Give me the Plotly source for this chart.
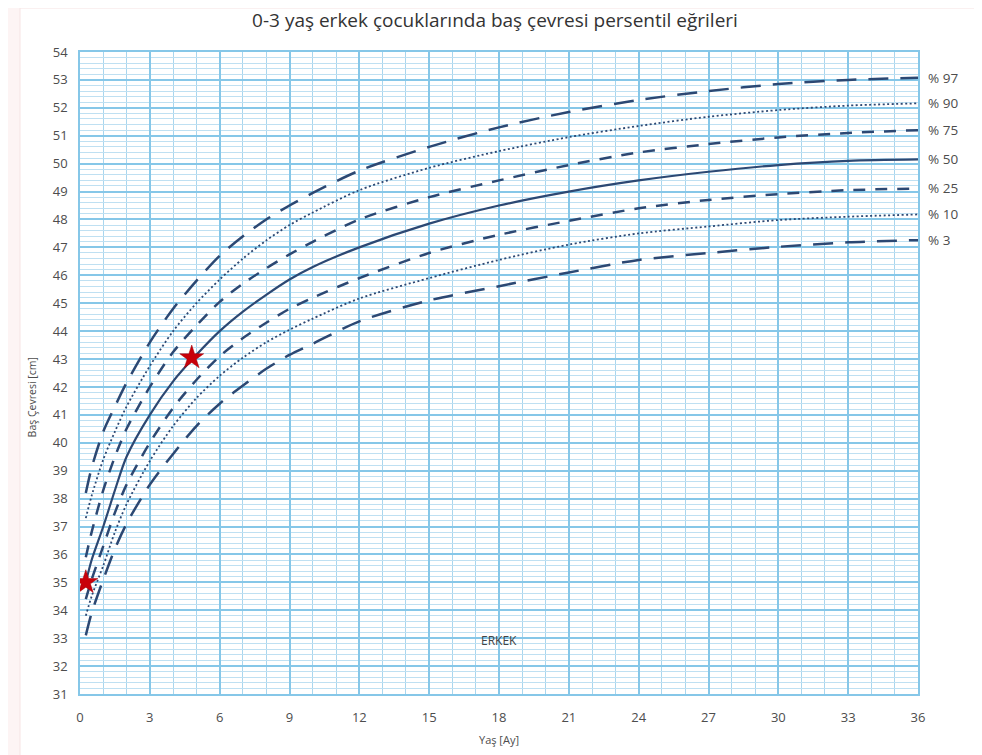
import plotly.graph_objects as go

# ---- data ----
months = [0.25, 0.5, 1, 1.5, 2, 3, 4, 5, 6, 7, 8, 9, 10, 12, 15, 18, 21, 24, 27, 30, 33, 36]

p97 = [38.2, 39.1, 40.4, 41.3, 42.15, 43.6, 44.8, 45.8, 46.7, 47.4, 48.0, 48.5, 48.95, 49.75, 50.6, 51.3, 51.85, 52.28, 52.6, 52.85, 53.0, 53.08]
p90 = [37.3, 38.1, 39.4, 40.4, 41.3, 42.75, 44.0, 45.0, 45.85, 46.6, 47.25, 47.8, 48.25, 49.05, 49.85, 50.45, 50.95, 51.35, 51.68, 51.92, 52.08, 52.16]
p75 = [35.9, 36.8, 38.3, 39.5, 40.5, 42.0, 43.25, 44.2, 45.05, 45.7, 46.25, 46.75, 47.2, 48.0, 48.8, 49.4, 49.95, 50.4, 50.7, 50.94, 51.1, 51.2]
p50 = [35.0, 35.8, 37.0, 38.3, 39.5, 41.0, 42.2, 43.15, 44.0, 44.7, 45.3, 45.85, 46.3, 47.0, 47.85, 48.5, 49.0, 49.4, 49.71, 49.95, 50.1, 50.15]
p25 = [34.4, 35.1, 36.3, 37.5, 38.5, 40.0, 41.25, 42.25, 43.1, 43.75, 44.3, 44.8, 45.2, 45.9, 46.8, 47.45, 47.95, 48.4, 48.7, 48.91, 49.05, 49.11]
p10 = [33.8, 34.5, 35.6, 36.8, 37.8, 39.35, 40.6, 41.6, 42.4, 43.05, 43.6, 44.05, 44.45, 45.17, 45.9, 46.55, 47.1, 47.5, 47.75, 47.98, 48.1, 48.18]
p3 = [33.1, 33.9, 35.1, 36.2, 37.1, 38.5, 39.6, 40.6, 41.4, 42.05, 42.65, 43.15, 43.55, 44.35, 45.1, 45.61, 46.1, 46.55, 46.8, 47.02, 47.18, 47.26]

series_names = ["% 97", "% 90", "% 75", "% 50", "% 25", "% 10", "% 3"]
series_values = [p97, p90, p75, p50, p25, p10, p3]

star_x = [0.25, 4.8]
star_y = [35.0, 43.05]

x_ticks = list(range(0, 37, 3))
y_ticks = list(range(31, 55))

# ---- styles ----
line_color = "#2c4873"
text_color = "#4d4d4d"
styles = {
    "% 97": dict(dash="20px,12px", width=2.5),
    "% 90": dict(dash="2px,2.5px", width=1.8),
    "% 75": dict(dash="12px,10px", width=2.5),
    "% 50": dict(dash="solid", width=2.2),
    "% 25": dict(dash="12px,10px", width=2.5),
    "% 10": dict(dash="2px,2.5px", width=1.8),
    "% 3": dict(dash="20px,12px", width=2.5),
}

fig = go.Figure()
for name, vals in zip(series_names, series_values):
    st = styles[name]
    fig.add_trace(go.Scatter(
        x=months, y=vals, mode="lines", name=name,
        line=dict(color=line_color, width=st["width"], dash=st["dash"],
                  shape="spline", smoothing=0.8),
        showlegend=False, hoverinfo="skip",
    ))
    fig.add_annotation(x=36, y=vals[-1], xref="x", yref="y", text=name,
                       showarrow=False, xanchor="left", xshift=8,
                       font=dict(family="Open Sans", size=13.5, color=text_color))

fig.add_trace(go.Scatter(
    x=star_x, y=star_y, mode="markers",
    marker=dict(symbol="star", size=18, color="#c8000a",
                line=dict(color="#a00008", width=0.5)),
    showlegend=False, hoverinfo="skip",
))

fig.add_annotation(x=18, y=32.9, xref="x", yref="y", text="ERKEK", showarrow=False,
                   font=dict(family="Open Sans", size=12, color="#444444"))

# y-axis title (placed slightly below the centre, as in the reference)
fig.add_annotation(x=-0.0573, y=0.462, xref="paper", yref="paper",
                   text="Baş Çevresi [cm]", textangle=-90, showarrow=False,
                   xanchor="center", yanchor="middle",
                   font=dict(family="Open Sans", size=10.5, color=text_color))

# outer white frame on pinkish page
fig.add_shape(type="rect", xref="paper", yref="paper",
              x0=-0.0716, x1=1.07, y0=-0.12, y1=1.0685,
              fillcolor="white", line=dict(color="#f6e3e3", width=1), layer="below")

grid_major = "#86c7e8"
grid_minor = "#bfe0f2"

# the page body adds an 8px offset, so the figure is sized to fit the window
fig.update_layout(
    width=974, height=747,
    margin=dict(l=72, r=64, t=44, b=61),
    paper_bgcolor="#fdf4f4",
    plot_bgcolor="#e6f3fb",
    title=dict(text="0-3 yaş erkek çocuklarında baş çevresi persentil eğrileri",
               x=0.5, xanchor="center", y=0.983, yanchor="middle",
               font=dict(family="Open Sans", size=19, color="#333333")),
    font=dict(family="Open Sans", color=text_color),
)

fig.update_xaxes(
    range=[0, 36], tickvals=x_ticks, ticktext=[str(v) for v in x_ticks],
    showgrid=True, gridcolor=grid_major, gridwidth=1.6,
    minor=dict(dtick=1, showgrid=True, gridcolor="#a9d6ee", gridwidth=1),
    showline=True, linecolor=grid_major, linewidth=1.6, mirror=True,
    zeroline=False, ticks="", ticklabelstandoff=11, automargin=False,
    tickfont=dict(size=13, color=text_color),
    title=dict(text="Yaş [Ay]", font=dict(size=11, color=text_color), standoff=11),
)
fig.update_yaxes(
    range=[31, 54], tickvals=y_ticks, ticktext=[str(v) for v in y_ticks],
    showgrid=True, gridcolor=grid_major, gridwidth=1.6,
    minor=dict(dtick=0.2, showgrid=True, gridcolor=grid_minor, gridwidth=1),
    showline=True, linecolor=grid_major, linewidth=1.6, mirror=True,
    zeroline=False, ticks="", ticklabelstandoff=8, automargin=False,
    tickfont=dict(size=13, color=text_color),
)

fig.write_html("out.html")
